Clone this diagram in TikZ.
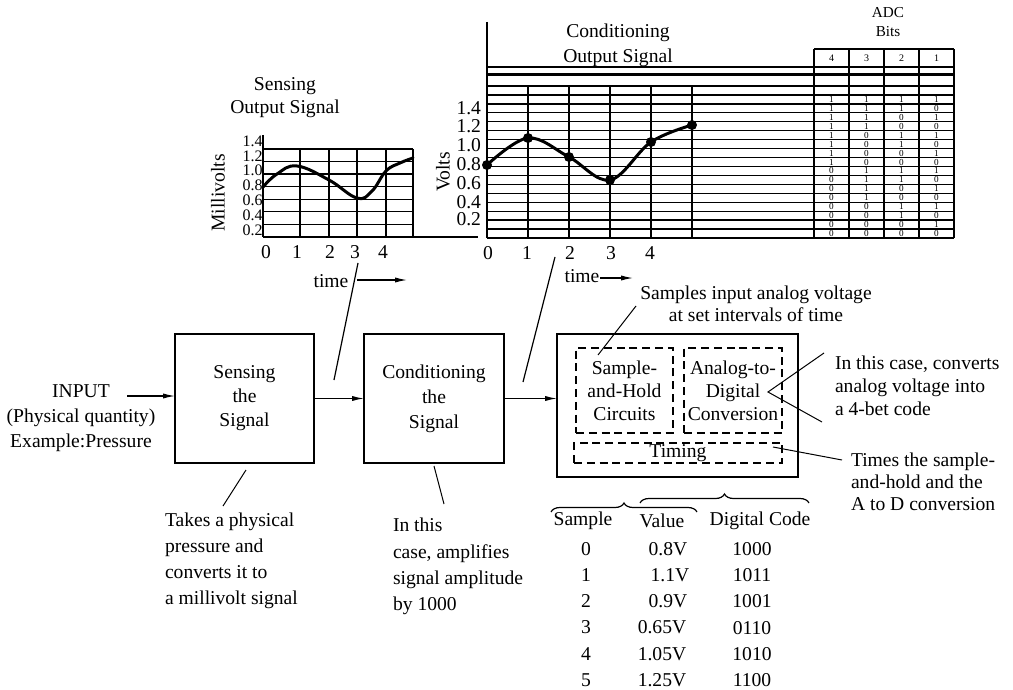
\documentclass[tikz,border=0pt]{standalone}
\usepackage{fontspec}
\setmainfont{Liberation Serif}
\usetikzlibrary{arrows.meta,decorations.pathreplacing}
\begin{document}
\begin{tikzpicture}[x=0.5pt,y=-0.5pt,
  every node/.style={inner sep=0pt, outer sep=0pt},
  font=\fontsize{9.8}{11.5}\selectfont,
  gridline/.style={line width=0.65pt},
  heavyline/.style={line width=1.1pt},
  blk/.style={draw, line width=1.4pt, align=center},
  dbox/.style={draw, dash pattern=on 4pt off 2.4pt, line width=0.6pt, align=center},
  callout/.style={line width=0.5pt},
  arr/.style={-{Latex[length=6pt,width=2.6pt]}, line width=0.6pt},
  sig/.style={line width=1.5pt, line join=round, line cap=round},
  sdot/.style={circle, fill, minimum size=5pt},
  bit/.style={font=\fontsize{4.6}{5}\selectfont},
  hdr/.style={font=\fontsize{5}{6}\selectfont},
  ylab/.style={anchor=east, font=\fontsize{8}{8.5}\selectfont},
  brc/.style={decorate, decoration={brace, amplitude=4.5pt}, line width=0.6pt}
]
\useasboundingbox (0,0) rectangle (1013,690);
\fill[white] (0,0) rectangle (1013,690);

% ---------------- Sensing output signal graph ----------------
\node[align=center, font=\fontsize{9.8}{11.5}\selectfont] (stitle) at (285,98) {Sensing\\Output Signal};
\draw[gridline] (263,135) -- (263,237);
\foreach \i in {0,...,6} \draw[gridline] (263,{149+\i*12.57}) -- (413,{149+\i*12.57});
\draw[gridline] (263,237) -- (478,237);
\foreach \x in {300,329,357,386,413} \draw[gridline] (\x,149) -- (\x,237);
\foreach \v/\k in {1.4/0,1.2/1,1.0/2,0.8/3,0.6/4,0.4/5,0.2/6}
  \node[ylab] (sl\v) at (262.5,{141+\k*14.85}) {\v};
\foreach \t/\x in {0/266,1/297,2/330,3/355,4/383}
  \node (sx\t) at (\x,252) {\t};
\node[rotate=90] (mv) at (218,193) {Millivolts};
\draw[sig] plot[smooth, tension=0.7] coordinates {(263,187) (277,174) (297,166) (329,180) (357,198) (372,191) (386,171) (400,163) (413,158)};
\node (stime) at (331,281) {time};
\coordinate (sta) at (357,280);
\coordinate (stb) at (407,280);
\draw[arr] (sta) -- (stb);

% ---------------- Conditioning output signal graph ----------------
\node[align=center, font=\fontsize{9.8}{12.5}\selectfont] (ctitle) at (618,45) {Conditioning\\Output Signal};
\draw[gridline] (487,22) -- (487,238);
\draw[gridline] (487,67) -- (954,67);
\draw[heavyline] (487,74.5) -- (954,74.5);
\foreach \i in {0,...,17} \draw[gridline] (487,{86+\i*8.941}) -- (954,{86+\i*8.941});
\foreach \x in {528,569,610,651,692} \draw[gridline] (\x,86) -- (\x,238);
\foreach \v/\y in {1.4/108,1.2/126,1.0/145,0.8/164,0.6/183,0.4/202,0.2/219}
  \node[anchor=east] (cl\v) at (481,\y) {\v};
\foreach \t/\x in {0/488,1/527,2/570,3/611,4/650}
  \node (cx\t) at (\x,253) {\t};
\node[rotate=90] (vl) at (443,172) {Volts};
\node[sdot] (p0) at (487,165) {};
\node[sdot] (p1) at (528,138) {};
\node[sdot] (p2) at (569,157) {};
\node[sdot] (p3) at (610,180) {};
\node[sdot] (p4) at (651,142) {};
\node[sdot] (p5) at (692,125) {};
\draw[sig] plot[smooth, tension=0.6] coordinates {(p0.center) (p1.center) (p2.center) (p3.center) (p4.center) (p5.center)};
\node (ctime) at (582,276) {time};
\coordinate (cta) at (600,278);
\coordinate (ctb) at (633,278);
\draw[arr] (cta) -- (ctb);

% ---------------- ADC bits table ----------------
\node[align=center, font=\fontsize{7.6}{9.5}\selectfont] (adct) at (888,22.5) {ADC\\Bits};
\draw[gridline] (814,49) -- (954,49);
\foreach \x in {814,849,884,919,954} \draw[gridline] (\x,49) -- (\x,238);
\foreach \h/\x in {4/831.5,3/866.5,2/901.5,1/936.5}
  \node[hdr] (h\h) at (\x,58) {\h};
\foreach \r in {0,...,15}{
  \foreach \c in {0,...,3}{
    \pgfmathtruncatemacro{\b}{mod(floor((15-\r)/(2^\c)),2)}
    \node[bit] (b\r-\c) at ({831.5+(3-\c)*35},{86+8.941*(\r+1)+4.47}) {\b};
  }
}

% ---------------- Block chain ----------------
\node[align=center, font=\fontsize{9.8}{12.5}\selectfont] (input) at (81,418) {INPUT\\(Physical quantity)\\Example:Pressure};
\node[blk, minimum width=69.5pt, minimum height=64.5pt, font=\fontsize{9.8}{12}\selectfont] (sense) at (244.5,398.5) {Sensing\\the\\Signal};
\node[blk, minimum width=70pt, minimum height=64.5pt, font=\fontsize{9.8}{12.5}\selectfont] (cond) at (434,398.5) {Conditioning\\the\\Signal};
\node[blk, minimum width=120.5pt, minimum height=71.5pt] (adc) at (677.5,405.5) {};
\node[dbox, minimum width=48.5pt, minimum height=42.5pt] (sh) at (624.5,390.5) {Sample-\\and-Hold\\Circuits};
\node[dbox, minimum width=49pt, minimum height=42.5pt] (atod) at (733,390.5) {Analog-to-\\Digital\\Conversion};
\node[dbox, minimum width=104pt, minimum height=10pt] (timing) at (678,453) {Timing};

\coordinate (ina) at (127,396);
\draw[arr] (ina) -- (ina -| sense.west);
\draw[arr] (sense.east) -- (cond.west);
\draw[arr] (cond.east) -- (cond.east -| adc.west);

% slanted links from graphs down to the arrows
\coordinate (s1a) at (358,263);
\coordinate (s1b) at (334,380);
\draw[callout, line width=0.6pt] (s1a) -- (s1b);
\coordinate (s2a) at (555,257);
\coordinate (s2b) at (523,382);
\draw[callout, line width=0.6pt] (s2a) -- (s2b);

% ---------------- Annotations ----------------
\node[anchor=west, align=left, font=\fontsize{9.8}{13}\selectfont] (take) at (165,561) {Takes a physical\\pressure and\\converts it to\\a millivolt signal};
\coordinate (c1a) at (246,470);
\coordinate (c1b) at (223,506);
\draw[callout] (c1a) -- (c1b);

\node[anchor=west, align=left, font=\fontsize{9.8}{13.1}\selectfont] (amp) at (393,566.5) {In this\\case, amplifies\\signal amplitude\\by 1000};
\coordinate (c2a) at (434,466);
\coordinate (c2b) at (444,504);
\draw[callout] (c2a) -- (c2b);

\node[align=center, font=\fontsize{9.8}{11}\selectfont] (samp) at (756,304) {Samples input analog voltage\\at set intervals of time};
\coordinate (c3a) at (636,306);
\coordinate (c3b) at (598,355);
\draw[callout] (c3a) -- (c3b);

\node[anchor=west, align=left, font=\fontsize{9.8}{11.5}\selectfont] (conv) at (835,386) {In this case, converts\\analog voltage into\\a 4-bet code};
\coordinate (c4a) at (824,353);
\coordinate (c4v) at (768,392);
\coordinate (c4b) at (822,422);
\draw[callout] (c4a) -- (c4v) -- (c4b);

\node[anchor=west, align=left, font=\fontsize{9.8}{11}\selectfont] (times) at (851,482) {Times the sample-\\and-hold and the\\A to D conversion};
\coordinate (c5a) at (773,447);
\coordinate (c5b) at (842,460);
\draw[callout] (c5a) -- (c5b);

% ---------------- Sample table ----------------
\coordinate (br1a) at (551,512);
\coordinate (br1b) at (697,512);
\draw[brc] (br1a) -- (br1b);
\coordinate (br2a) at (640,503);
\coordinate (br2b) at (809,503);
\draw[brc] (br2a) -- (br2b);

\node (hs) at (583,521) {Sample};
\node (hv) at (662,521) {Value};
\node (hd) at (760,521) {Digital Code};
\foreach \k/\s/\vx/\v/\d in {0/0/668/0.8V/1000, 1/1/670/1.1V/1011, 2/2/668/0.9V/1001, 3/3/662/0.65V/0110, 4/4/662/1.05V/1010, 5/5/662/1.25V/1100}{
  \node (ts\k) at (586,{549+26.2*\k}) {\s};
  \node (tv\k) at (\vx,{549+26.2*\k}) {\v};
  \node (td\k) at (752,{549+26.2*\k}) {\d};
}
\end{tikzpicture}
\end{document}
